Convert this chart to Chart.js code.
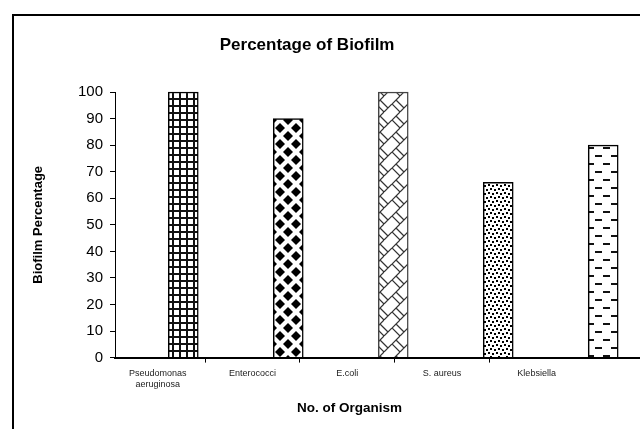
<!DOCTYPE html>
<html>
<head>
<meta charset="utf-8">
<title>Percentage of Biofilm</title>
<script src="https://cdn.jsdelivr.net/npm/chart.js@4.4.1/dist/chart.umd.min.js"></script>
<style>
  body { margin: 0; background: #fff; overflow: hidden; width: 640px; height: 429px; position: relative; }
  #frame { position: absolute; left: 12px; top: 14px; width: 700px; height: 500px; border-left: 2px solid #000; border-top: 2px solid #000; }
  #biofilmChart { position: absolute; left: -24px; top: 0; }
</style>
</head>
<body>
<div id="frame"></div>
<canvas id="biofilmChart" width="664" height="429"></canvas>
<script>
// data
const organisms = [['Pseudomonas', 'aeruginosa'], 'Enterococci', 'E.coli', 'S. aureus', 'Klebsiella'];
const biofilmPercent = [100, 90, 100, 66, 80];
const yTickValues = [0, 10, 20, 30, 40, 50, 60, 70, 80, 90, 100];

const FONT = "'Liberation Sans', Arial, sans-serif";
const canvas = document.getElementById('biofilmChart');
const ctx = canvas.getContext('2d');

// small black & white fill patterns like the old excel ones
function makePattern(w, h, draw) {
    const c = document.createElement('canvas');
    c.width = w;
    c.height = h;
    const g = c.getContext('2d');
    g.fillStyle = '#fff';
    g.fillRect(0, 0, w, h);
    draw(g);
    return ctx.createPattern(c, 'repeat');
}

const gridFill = makePattern(7, 7, g => {
    g.fillStyle = '#111';
    g.fillRect(0, 0, 7, 2);
    g.fillRect(0, 0, 2, 7);
});

const diamondFill = makePattern(16, 16, g => {
    g.fillStyle = '#000';
    const r = 5;
    [[0, 0], [16, 0], [0, 16], [16, 16], [8, 8]].forEach(([cx, cy]) => {
        g.beginPath();
        g.moveTo(cx, cy - r);
        g.lineTo(cx + r, cy);
        g.lineTo(cx, cy + r);
        g.lineTo(cx - r, cy);
        g.closePath();
        g.fill();
    });
});

const brickFill = makePattern(16, 16, g => {
    g.strokeStyle = '#333';
    g.lineWidth = 1.2;
    g.beginPath();
    g.moveTo(0, 8); g.lineTo(8, 0);
    g.moveTo(8, 16); g.lineTo(16, 8);
    g.moveTo(4, 4); g.lineTo(12, 12);
    g.moveTo(0, 8); g.lineTo(8, 16);
    g.stroke();
});

const dotFill = makePattern(8, 8, g => {
    g.fillStyle = '#000';
    g.fillRect(0, 0, 2, 2);
    g.fillRect(4, 1, 2, 2);
    g.fillRect(2, 4, 2, 2);
    g.fillRect(6, 5, 2, 2);
});

const dashFill = makePattern(16, 16, g => {
    g.fillStyle = '#111';
    g.fillRect(3, 3, 7, 2);
    g.fillRect(11, 11, 7, 2);
    g.fillRect(-5, 11, 7, 2);
});

const barFills = [gridFill, diamondFill, brickFill, dotFill, dashFill];
const barBorders = ['#000', '#000', '#444', '#000', '#000'];

// x axis line runs on to the edge of the picture
const axisTail = {
    id: 'axisTail',
    afterDraw(chart) {
        const sc = chart.scales.x;
        const c = chart.ctx;
        c.save();
        c.strokeStyle = '#000';
        c.lineWidth = 2;
        c.beginPath();
        c.moveTo(chart.chartArea.right, Math.round(sc.top));
        c.lineTo(chart.width, Math.round(sc.top));
        c.stroke();
        c.restore();
    }
};

new Chart(ctx, {
    type: 'bar',
    data: {
        datasets: [{
            data: biofilmPercent.map((v, i) => ({ x: i, y: v })),
            xAxisID: 'xb',
            backgroundColor: barFills,
            borderColor: barBorders,
            borderWidth: 1.5,
            borderSkipped: 'bottom',
            barThickness: 30,
            clip: false
        }]
    },
    plugins: [axisTail],
    options: {
        responsive: false,
        animation: false,
        devicePixelRatio: 1,
        layout: { padding: { left: 54.2, right: 56, top: 0, bottom: 12.6 } },
        plugins: {
            legend: { display: false },
            tooltip: { enabled: false },
            title: {
                display: true,
                text: 'Percentage of Biofilm',
                color: '#000',
                font: { family: FONT, size: 17, weight: 'bold' },
                padding: { top: 34.8, bottom: 36.8 }
            }
        },
        scales: {
            // label axis: category slots of the excel plot
            x: {
                type: 'linear',
                position: 'bottom',
                min: 0.05,
                max: 5,
                offset: false,
                afterBuildTicks: axis => {
                    const t = [];
                    organisms.forEach((o, i) => {
                        t.push({ value: i + 0.5 });
                        if (i < organisms.length - 1) t.push({ value: i + 1 });
                    });
                    axis.ticks = t;
                },
                grid: {
                    offset: false,
                    drawOnChartArea: false,
                    tickLength: 5,
                    lineWidth: 1,
                    color: c => (c.tick && c.tick.value % 1 === 0) ? '#000' : 'rgba(0,0,0,0)'
                },
                border: { display: true, color: '#000', width: 2 },
                ticks: {
                    autoSkip: false,
                    maxRotation: 0,
                    minRotation: 0,
                    padding: 6,
                    color: '#222',
                    font: { family: FONT, size: 9 },
                    callback: value => value % 1 === 0.5 ? organisms[Math.floor(value)] : ''
                },
                title: {
                    display: true,
                    text: 'No. of Organism',
                    color: '#000',
                    font: { family: FONT, size: 13.5, weight: 'bold' },
                    padding: { top: 4, bottom: 0 }
                }
            },
            // bars sit on their own hidden axis
            xb: {
                type: 'linear',
                axis: 'x',
                position: 'bottom',
                display: false,
                offset: false,
                min: -0.65,
                max: 3.817
            },
            y: {
                type: 'linear',
                min: 0,
                max: 100,
                afterBuildTicks: axis => {
                    axis.ticks = yTickValues.map(v => ({ value: v }));
                },
                grid: { drawOnChartArea: false, tickLength: 5, color: '#000' },
                border: { display: true, color: '#000', width: 1 },
                ticks: {
                    padding: 7,
                    color: '#000',
                    font: { family: FONT, size: 15 }
                },
                title: {
                    display: true,
                    text: 'Biofilm Percentage',
                    color: '#000',
                    font: { family: FONT, size: 13, weight: 'bold' },
                    padding: { top: 0, bottom: 25.2 }
                }
            }
        }
    }
});
</script>
</body>
</html>
